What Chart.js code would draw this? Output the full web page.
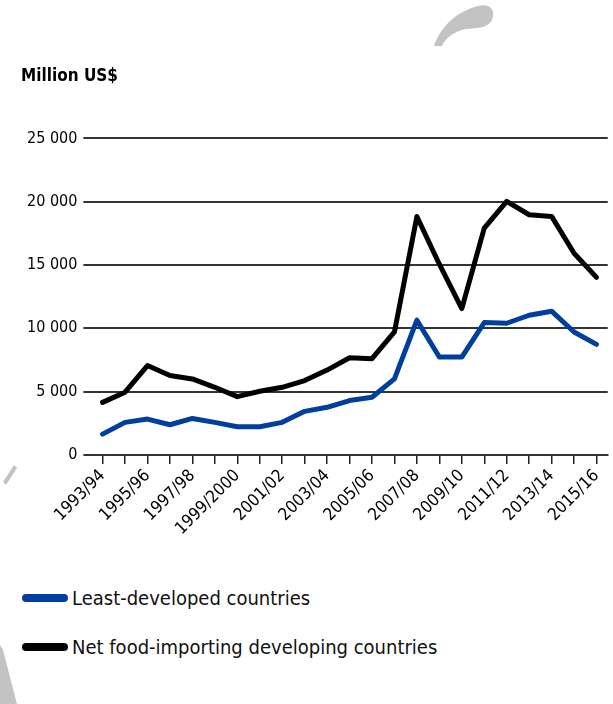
<!DOCTYPE html>
<html>
<head>
<meta charset="utf-8">
<script src="https://cdn.jsdelivr.net/npm/chart.js@4.4.1/dist/chart.umd.min.js"></script>
<style>
  html, body { margin:0; padding:0; background:#fff; }
  body { width:613px; height:704px; position:relative; overflow:hidden;
         font-family:'DejaVu Sans Condensed',sans-serif; }
  #deco { position:absolute; left:0; top:0; }
  #wrap { position:absolute; left:0; top:0; width:613px; height:541px; }
  #legend { position:absolute; left:22px; top:583px; }
  .item { display:flex; align-items:center; height:30px; margin-bottom:19px;
          font-size:20px; color:#111; }
  .sw { width:46px; height:8px; border-radius:4px; margin-right:4px; }
</style>
</head>
<body>
<svg id="deco" width="613" height="704">
  <path d="M434,46 C440,28 455,12 478,6 C490,3 496,10 492,20 C488,28 478,28 466,29 C455,31 446,37 442,46 Z" fill="#c3c3c3"/>
  <path d="M3,482 L14,465 L17,468 L6,485 Z" fill="#c3c3c3"/>
  <path d="M0,645 L3,650 L17,704 L0,704 Z" fill="#c3c3c3"/>
</svg>
<div id="wrap"><canvas id="chart"></canvas></div>
<div id="legend"></div>
<script>
const years = ['1993/94','1994/95','1995/96','1996/97','1997/98','1998/99','1999/2000',
  '2000/01','2001/02','2002/03','2003/04','2004/05','2005/06','2006/07','2007/08',
  '2008/09','2009/10','2010/11','2011/12','2012/13','2013/14','2014/15','2015/16'];

const leastDeveloped = [1640,2570,2830,2380,2880,2570,2220,2220,2570,3440,3760,4290,
  4550,6000,10640,7730,7730,10450,10400,11030,11350,9710,8730];

const netFoodImporting = [4150,4950,7060,6270,6000,5340,4600,5030,5340,5870,6700,7670,
  7600,9710,18830,15060,11560,17910,20030,18970,18840,15930,14020];

const yTicks = [0,5000,10000,15000,20000,25000];

const seriesNames = ['Least-developed countries','Net food-importing developing countries'];
const seriesColors = ['#003f9e','#000000'];

const fmt = v => v === 0 ? '0' : String(v).replace(/\B(?=(\d{3})+(?!\d))/g, ' ');
const font = "'DejaVu Sans Condensed',sans-serif";

const chart = new Chart(document.getElementById('chart'), {
  type: 'line',
  data: {
    labels: years,
    datasets: [
      { label: seriesNames[0], data: leastDeveloped, borderColor: seriesColors[0],
        backgroundColor: seriesColors[0], borderWidth: 5, pointRadius: 0,
        borderJoinStyle: 'round', borderCapStyle: 'round', tension: 0 },
      { label: seriesNames[1], data: netFoodImporting, borderColor: seriesColors[1],
        backgroundColor: seriesColors[1], borderWidth: 5, pointRadius: 0,
        borderJoinStyle: 'round', borderCapStyle: 'round', tension: 0 }
    ]
  },
  options: {
    responsive: true,
    maintainAspectRatio: false,
    animation: false,
    layout: { padding: { left: 21, right: 3, top: 66, bottom: 0 } },
    plugins: {
      legend: { display: false },
      tooltip: { enabled: false },
      title: { display: true, text: 'Million US$', align: 'start', color: '#000',
        font: { family: font, size: 17, weight: 'bold' }, padding: { top: 0, bottom: 52 } }
    },
    scales: {
      x: {
        offset: true,
        grid: { drawOnChartArea: false, drawTicks: true, tickLength: 9, color: '#222', lineWidth: 1.5 },
        border: { display: true, color: '#333', width: 2 },
        ticks: { autoSkip: false, maxRotation: 45, minRotation: 45, color: '#000', padding: 2,
          font: { family: font, size: 17 },
          callback: function(v, i) { return i % 2 === 0 ? this.getLabelForValue(v) : ''; } }
      },
      y: {
        min: 0, max: 25000,
        afterBuildTicks: s => { s.ticks = yTicks.map(v => ({ value: v })); },
        grid: { color: '#333', lineWidth: 2, drawTicks: true, tickLength: 8 },
        border: { display: false },
        ticks: { color: '#000', padding: 6, font: { family: font, size: 16 },
          callback: v => fmt(v) }
      }
    }
  }
});

const lg = document.getElementById('legend');
chart.data.datasets.forEach(ds => {
  const row = document.createElement('div'); row.className = 'item';
  row.innerHTML = `<span class="sw" style="background:${ds.borderColor}"></span><span>${ds.label}</span>`;
  lg.appendChild(row);
});
</script>
</body>
</html>
